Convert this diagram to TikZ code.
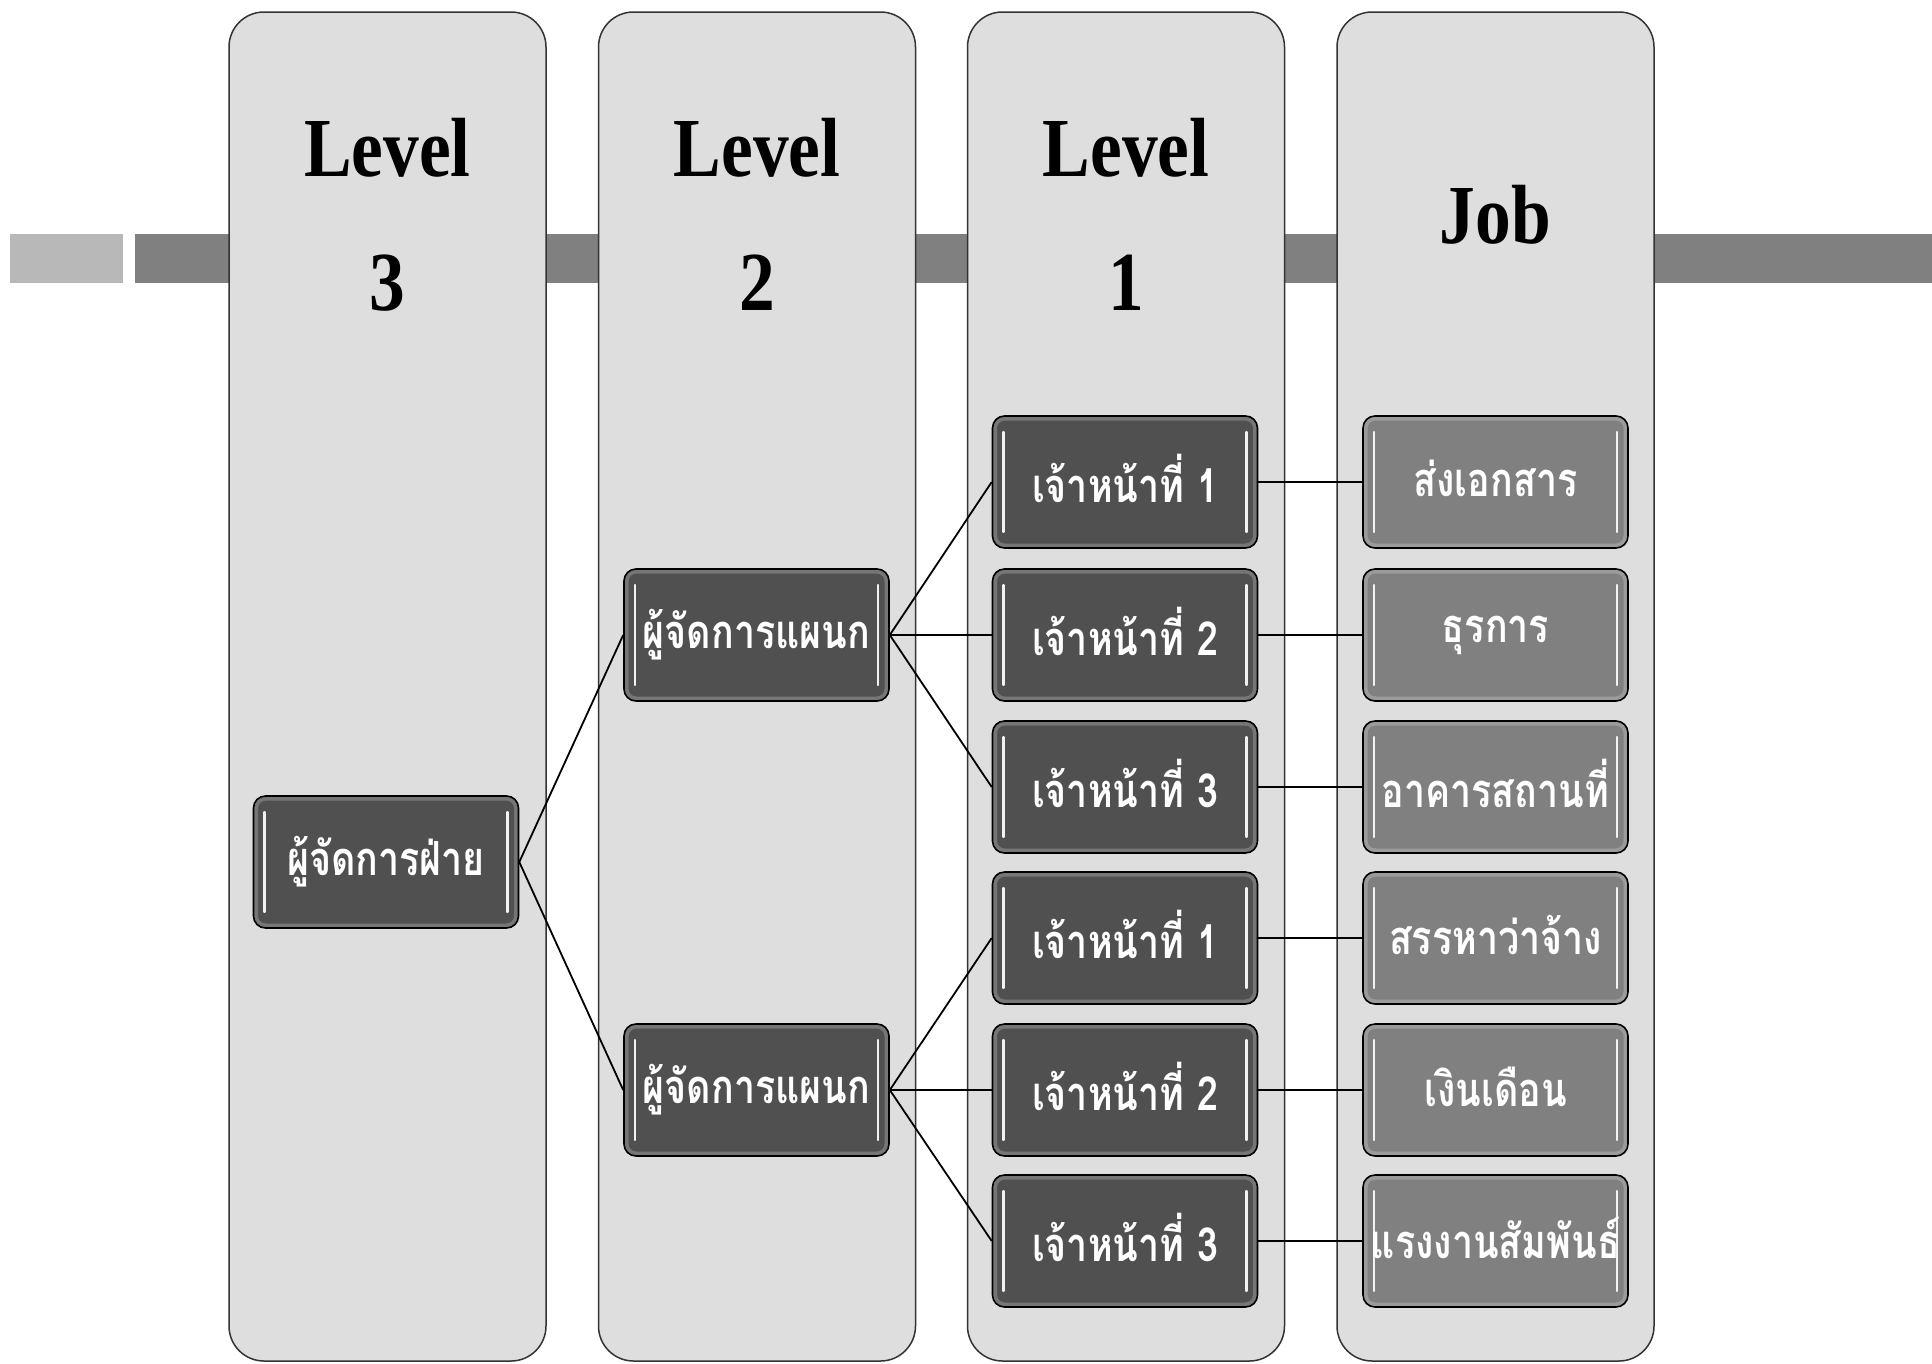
\documentclass[tikz,border=0pt]{standalone}
\usepackage{fontspec}
\newfontfamily\thaifont[Script=Thai,FakeStretch=0.8]{Loma}
\newfontfamily\hdrfont[FakeStretch=0.85]{Liberation Serif}
\definecolor{colfill}{HTML}{DEDEDE}
\definecolor{darkbox}{HTML}{505050}
\definecolor{jobfill}{HTML}{808080}
\definecolor{barlight}{HTML}{B8B8B8}
\definecolor{bardark}{HTML}{808080}
\tikzset{
  colbox/.style={draw=black!80, line width=1.5pt, fill=colfill, rounded corners=35pt,
    minimum width=317pt, minimum height=1349pt, inner sep=0pt},
  hdr/.style={font=\hdrfont\bfseries\fontsize{84}{84}\selectfont, anchor=base, inner sep=0pt},
  glossy/.style={draw=black, line width=1.6pt, rounded corners=12pt,
    minimum width=265pt, minimum height=132pt, inner sep=0pt, text=white,
    font=\thaifont\bfseries\fontsize{47}{47}\selectfont,
    execute at begin node={\setbox0\hbox\bgroup},
    execute at end node={\egroup\raise7pt\box0},
    path picture={
      \draw[white, opacity=0.22, line width=9pt]
        (path picture bounding box.north west) rectangle (path picture bounding box.south east);
      \draw[white!90!gray, line width=2.2pt, line cap=round]
        ([xshift=11pt,yshift=-16pt]path picture bounding box.north west) --
        ([xshift=11pt,yshift=16pt]path picture bounding box.south west);
      \draw[white!90!gray, line width=2.2pt, line cap=round]
        ([xshift=-11pt,yshift=-16pt]path picture bounding box.north east) --
        ([xshift=-11pt,yshift=16pt]path picture bounding box.south east);
    }},
  lvbox/.style={glossy, fill=darkbox},
  jobbox/.style={glossy, fill=jobfill},
  conn/.style={draw=black, line width=1.8pt}
}
\begin{document}
\begin{tikzpicture}[x=1pt,y=-1pt]
\useasboundingbox (0,0) rectangle (1932,1363);
% background bars
\fill[barlight] (10,234) rectangle (123,283);
\fill[bardark] (135,234) rectangle (1932,283);
% columns
\node[colbox] (c1) at (387.5,686.5) {};
\node[colbox] (c2) at (757,686.5) {};
\node[colbox] (c3) at (1126,686.5) {};
\node[colbox] (c4) at (1495.5,686.5) {};
% headers
\node[hdr] (h1a) at (387.5,176) {Level};
\node[hdr] (h1b) at (387.5,310) {3};
\node[hdr] (h2a) at (757,176) {Level};
\node[hdr] (h2b) at (757,310) {2};
\node[hdr] (h3a) at (1126,176) {Level};
\node[hdr] (h3b) at (1126,310) {1};
\node[hdr] (h4a) at (1495.5,243) {Job};
% level nodes
\node[lvbox] (a) at (386,862) {ผู้จัดการฝ่าย};
\node[lvbox] (b1) at (756.5,635) {ผู้จัดการแผนก};
\node[lvbox] (b2) at (756.5,1090) {ผู้จัดการแผนก};
\node[lvbox] (s1) at (1125,482) {เจ้าหน้าที่ 1};
\node[lvbox] (s2) at (1125,635) {เจ้าหน้าที่ 2};
\node[lvbox] (s3) at (1125,787) {เจ้าหน้าที่ 3};
\node[lvbox] (s4) at (1125,938) {เจ้าหน้าที่ 1};
\node[lvbox] (s5) at (1125,1090) {เจ้าหน้าที่ 2};
\node[lvbox] (s6) at (1125,1241) {เจ้าหน้าที่ 3};
% job nodes
\node[jobbox] (j1) at (1495.5,482) {ส่งเอกสาร};
\node[jobbox] (j2) at (1495.5,635) {ธุรการ};
\node[jobbox] (j3) at (1495.5,787) {อาคารสถานที่};
\node[jobbox] (j4) at (1495.5,938) {สรรหาว่าจ้าง};
\node[jobbox] (j5) at (1495.5,1090) {เงินเดือน};
\node[jobbox] (j6) at (1495.5,1241) {แรงงานสัมพันธ์};
% connectors
\draw[conn] (a.east) -- (b1.west);
\draw[conn] (a.east) -- (b2.west);
\foreach \s in {s1,s2,s3} \draw[conn] (b1.east) -- (\s.west);
\foreach \s in {s4,s5,s6} \draw[conn] (b2.east) -- (\s.west);
\foreach \i in {1,...,6} \draw[conn] (s\i.east) -- (j\i.west);
\end{tikzpicture}
\end{document}
